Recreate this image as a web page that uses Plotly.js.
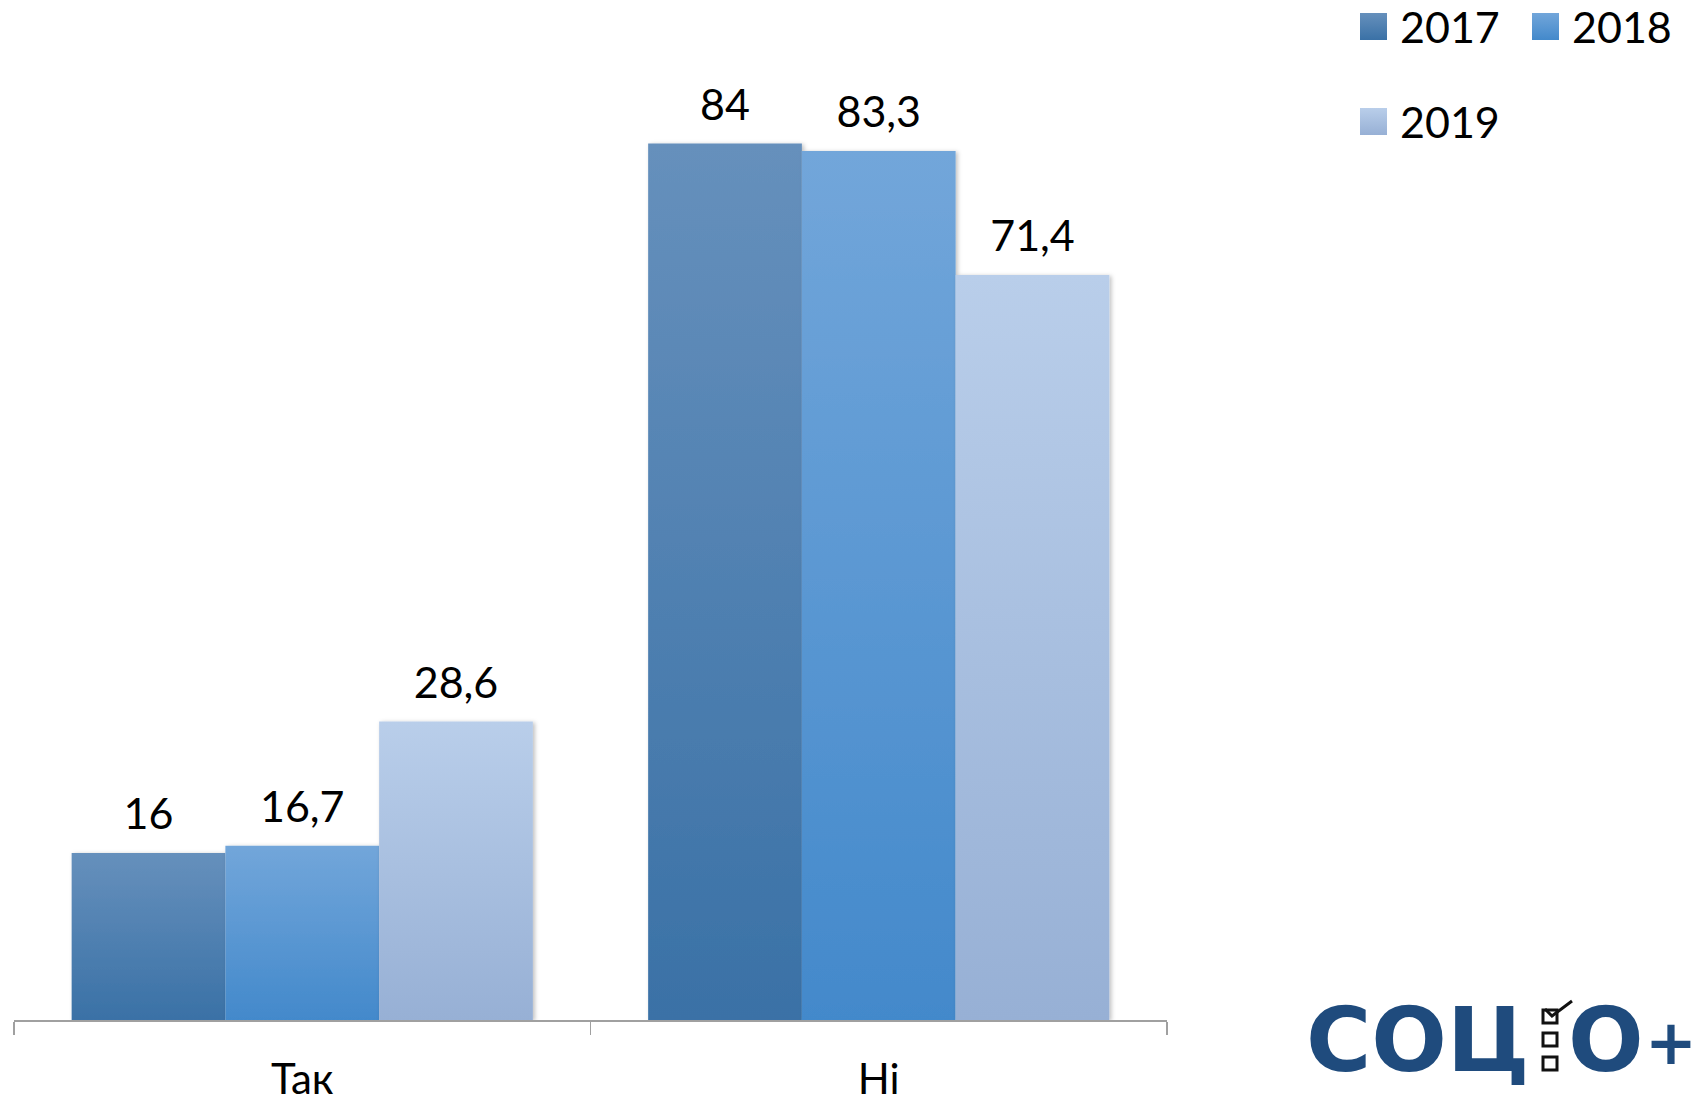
<!DOCTYPE html>
<html><head><meta charset="utf-8">
<script src="https://cdn.plot.ly/plotly-3.0.1.min.js"></script>
<style>html,body{margin:0;padding:0;background:#fff}#chart{width:1698px;height:1104px}</style>
</head><body><div id="chart"></div>
<script>
// ---- data ----
const categories = ['Так', 'Ні'];
const seriesNames = ['2017', '2018', '2019'];
const values2017 = [16, 84];
const values2018 = [16.7, 83.3];
const values2019 = [28.6, 71.4];
const seriesValues = [values2017, values2018, values2019];
// gradient colours (top, bottom) per series
const colorsTop = ['#6690BC', '#72A6DA', '#B9CEEA'];
const colorsBottom = ['#3A71A6', '#4389CB', '#97B0D5'];
const colorsMid = ['#5080B2', '#5A97D3', '#A8BFE0'];

// ---- geometry (pixels) ----
const W = 1698, H = 1104;
const M = {l: 14, r: 531, t: 81, b: 84};
const PW = W - M.l - M.r, PH = H - M.t - M.b;
const px = x => (x - M.l) / PW;
const py = y => (H - M.b - y) / PH;

const fmt = v => String(v).replace('.', ',');
const FONT = 'Lato, Carlito, "Open Sans", sans-serif';

const data = seriesNames.map((name, i) => ({
  type: 'bar',
  name: name,
  x: categories,
  y: seriesValues[i],
  text: seriesValues[i].map(fmt),
  textposition: 'outside',
  cliponaxis: false,
  textfont: {family: FONT, size: 43, color: '#000'},
  marker: {color: colorsMid[i], line: {width: 0}},
  showlegend: false,
  hoverinfo: 'none'
}));

// custom legend (large swatches)
const legendPos = [
  {sx: 1360, sy: 13, tx: 1398, ty: 27},
  {sx: 1532, sy: 13, tx: 1570, ty: 27},
  {sx: 1360, sy: 108, tx: 1398, ty: 122}
];
const SW = 27;
const shapes = [];
const annotations = [];
seriesNames.forEach((name, i) => {
  const p = legendPos[i];
  shapes.push({type: 'rect', xref: 'paper', yref: 'paper',
    x0: px(p.sx), x1: px(p.sx + SW), y0: py(p.sy + SW), y1: py(p.sy),
    fillcolor: colorsMid[i], line: {width: 0}});
  annotations.push({xref: 'paper', yref: 'paper', x: px(p.tx), y: py(p.ty),
    xanchor: 'left', yanchor: 'middle', showarrow: false, text: name,
    font: {family: FONT, size: 43, color: '#000'}});
});

// logo СОЦІО+
const LOGO = '#1F4B7D';
const LOGOFONT = '"DejaVu Sans", sans-serif';
annotations.push({xref: 'paper', yref: 'paper', x: px(1532), y: py(1040),
  xanchor: 'right', yanchor: 'middle', showarrow: false, text: '<b>СОЦ</b>',
  font: {family: LOGOFONT, size: 89, color: LOGO}});
annotations.push({xref: 'paper', yref: 'paper', x: px(1566), y: py(1040),
  xanchor: 'left', yanchor: 'middle', showarrow: false, text: '<b>О</b>',
  font: {family: LOGOFONT, size: 89, color: LOGO}});
annotations.push({xref: 'paper', yref: 'paper', x: px(1671), y: py(1042),
  xanchor: 'center', yanchor: 'middle', showarrow: false, text: '<b>+</b>',
  font: {family: LOGOFONT, size: 62, color: LOGO}});
[1010, 1033, 1057].forEach(y0 => {
  shapes.push({type: 'rect', xref: 'paper', yref: 'paper',
    x0: px(1543), x1: px(1557), y0: py(y0 + 13), y1: py(y0),
    line: {color: '#111', width: 3}, fillcolor: 'rgba(0,0,0,0)'});
});
shapes.push({type: 'path', xref: 'paper', yref: 'paper',
  path: `M ${px(1545)} ${py(1009)} L ${px(1552)} ${py(1016)} L ${px(1572)} ${py(1001)}`,
  line: {color: '#111', width: 3}});

const layout = {
  width: W, height: H,
  margin: M,
  paper_bgcolor: '#fff', plot_bgcolor: '#fff',
  barmode: 'group', bargap: 0.2, bargroupgap: 0,
  showlegend: false,
  xaxis: {
    showline: true, linecolor: '#A0A0A0', linewidth: 2,
    ticks: 'outside', tickson: 'boundaries', ticklen: 13, tickwidth: 1.5, tickcolor: '#A0A0A0',
    tickfont: {family: FONT, size: 42, color: '#000'},
    ticklabelstandoff: 22,
    showgrid: false, zeroline: false, fixedrange: true
  },
  yaxis: {range: [0, 90], visible: false, showgrid: false, zeroline: false, fixedrange: true},
  shapes: shapes,
  annotations: annotations
};

Plotly.newPlot('chart', data, layout, {staticPlot: true, displayModeBar: false}).then(gd => {
  const NS = 'http://www.w3.org/2000/svg';
  const svg = gd.querySelector('svg.main-svg');
  let defs = svg.querySelector('defs');
  if (!defs) { defs = document.createElementNS(NS, 'defs'); svg.insertBefore(defs, svg.firstChild); }
  seriesNames.forEach((n, i) => {
    const g = document.createElementNS(NS, 'linearGradient');
    g.setAttribute('id', 'barGrad' + i);
    g.setAttribute('x1', '0'); g.setAttribute('y1', '0');
    g.setAttribute('x2', '0'); g.setAttribute('y2', '1');
    [[0, colorsTop[i]], [1, colorsBottom[i]]].forEach(([o, c]) => {
      const s = document.createElementNS(NS, 'stop');
      s.setAttribute('offset', o); s.setAttribute('stop-color', c);
      g.appendChild(s);
    });
    defs.appendChild(g);
  });
  const f = document.createElementNS(NS, 'filter');
  f.setAttribute('id', 'barShadow');
  f.setAttribute('x', '-10%'); f.setAttribute('y', '-10%');
  f.setAttribute('width', '130%'); f.setAttribute('height', '130%');
  const ds = document.createElementNS(NS, 'feDropShadow');
  ds.setAttribute('dx', '2'); ds.setAttribute('dy', '1');
  ds.setAttribute('stdDeviation', '2'); ds.setAttribute('flood-opacity', '0.25');
  f.appendChild(ds); defs.appendChild(f);

  gd.querySelectorAll('.barlayer .trace').forEach((tr, i) => {
    tr.querySelectorAll('.point path').forEach(p => {
      p.style.fill = `url(#barGrad${i})`;
      p.style.filter = 'url(#barShadow)';
    });
    tr.querySelectorAll('text.bartext').forEach(t => {
      const old = t.getAttribute('transform') || '';
      t.setAttribute('transform', 'translate(0,-12) ' + old);
    });
  });
  // legend swatches gradient
  const sp = gd.querySelectorAll('.shapelayer path');
  seriesNames.forEach((n, i) => { if (sp[i]) sp[i].style.fill = `url(#barGrad${i})`; });
});
</script>
</body></html>
